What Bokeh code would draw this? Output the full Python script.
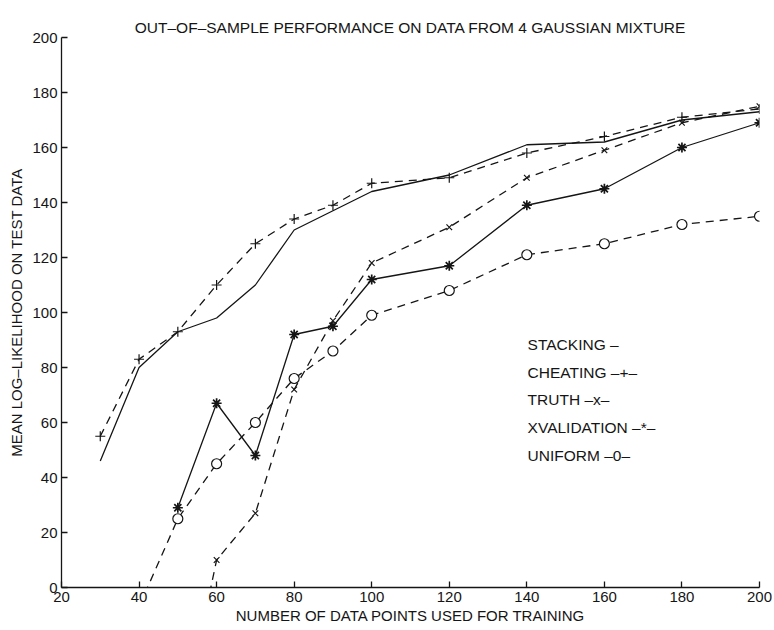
from bokeh.plotting import figure
from bokeh.models import Range1d, FixedTicker, Label
from bokeh.embed import file_html
from bokeh.resources import INLINE

# ---- data ----
stacking_x = [30, 40, 50, 60, 70, 80, 90, 100, 120, 140, 160, 180, 200]
stacking_y = [46, 80, 93, 98, 110, 130, 137, 144, 150, 161, 162, 170, 173]

cheating_x = [30, 40, 50, 60, 70, 80, 90, 100, 120, 140, 160, 180, 200]
cheating_y = [55, 83, 93, 110, 125, 134, 139, 147, 149, 158, 164, 171, 174]

truth_x = [50, 60, 70, 80, 90, 100, 120, 140, 160, 180, 200]
truth_y = [-57, 10, 27, 72, 97, 118, 131, 149, 159, 169, 175]

xval_x = [50, 60, 70, 80, 90, 100, 120, 140, 160, 180, 200]
xval_y = [29, 67, 48, 92, 95, 112, 117, 139, 145, 160, 169]

uniform_x = [40, 50, 60, 70, 80, 90, 100, 120, 140, 160, 180, 200]
uniform_y = [-7, 25, 45, 60, 76, 86, 99, 108, 121, 125, 132, 135]

x_ticks = [20, 40, 60, 80, 100, 120, 140, 160, 180, 200]
y_ticks = [0, 20, 40, 60, 80, 100, 120, 140, 160, 180, 200]

legend_texts = ["STACKING –", "CHEATING –+–", "TRUTH –x–", "XVALIDATION –*–", "UNIFORM –0–"]

title_text = "OUT–OF–SAMPLE PERFORMANCE ON DATA FROM 4 GAUSSIAN MIXTURE"
x_label = "NUMBER OF DATA POINTS USED FOR TRAINING"
y_label = "MEAN LOG–LIKELIHOOD ON TEST DATA"

INK = "#151515"
FONT = "Liberation Sans"
DASH = "8 6"

p = figure(width=774, height=630,
           x_range=Range1d(20, 200), y_range=Range1d(0, 200),
           output_backend="svg", toolbar_location=None,
           min_border_left=61, min_border_right=15,
           min_border_top=37, min_border_bottom=43)

p.title.text = title_text
p.title.align = "center"
p.title.text_font = FONT
p.title.text_font_size = "15.5px"
p.title.text_font_style = "normal"
p.title.text_color = INK
p.title.standoff = 4
p.title.offset = 0

p.outline_line_color = None
p.xgrid.visible = False
p.ygrid.visible = False
p.background_fill_color = "white"
p.border_fill_color = "white"

for ax, ticks in ((p.xaxis[0], x_ticks), (p.yaxis[0], y_ticks)):
    ax.ticker = FixedTicker(ticks=ticks)
    ax.axis_line_color = INK
    ax.axis_line_width = 1.3
    ax.major_tick_line_color = INK
    ax.major_tick_line_width = 1.3
    ax.major_tick_in = 6
    ax.major_tick_out = 0
    ax.minor_tick_line_color = None
    ax.major_label_text_font = FONT
    ax.major_label_text_font_size = "15px"
    ax.major_label_text_color = INK
    ax.axis_label_text_font = FONT
    ax.axis_label_text_font_style = "normal"
    ax.axis_label_text_color = INK
    ax.axis_label_text_font_size = "15px"

p.xaxis.axis_label = x_label
p.xaxis.major_label_standoff = 4
p.xaxis.axis_label_standoff = 2

p.yaxis.axis_label = y_label
p.yaxis.major_label_standoff = 4
p.yaxis.axis_label_standoff = 4

# stacking: solid, no markers
p.line(stacking_x, stacking_y, line_color=INK, line_width=1.3)

# cheating: dashed with +
p.line(cheating_x, cheating_y, line_color=INK, line_width=1.3, line_dash=DASH)
p.scatter(cheating_x, cheating_y, marker="cross", size=10, line_color=INK, line_width=1.2)

# truth: dashed with x
p.line(truth_x, truth_y, line_color=INK, line_width=1.3, line_dash=DASH)
p.scatter(truth_x, truth_y, marker="x", size=8, line_color=INK, line_width=1.2)

# xvalidation: solid with *
p.line(xval_x, xval_y, line_color=INK, line_width=1.3)
p.scatter(xval_x, xval_y, marker="asterisk", size=10, line_color=INK, line_width=1.7)

# uniform: dashed with o
p.line(uniform_x, uniform_y, line_color=INK, line_width=1.3, line_dash=DASH)
p.scatter(uniform_x, uniform_y, marker="circle", size=10, line_color=INK,
          fill_color="white", line_width=1.2)

# text legend
legend_x = 140.2
legend_y0 = 88.4
legend_step = 10.1
for i, t in enumerate(legend_texts):
    p.add_layout(Label(x=legend_x, y=legend_y0 - i * legend_step, text=t,
                       text_font=FONT, text_font_size="15.5px", text_color=INK,
                       text_baseline="middle", text_align="left"))

open("out.html", "w").write(file_html(p, INLINE))
